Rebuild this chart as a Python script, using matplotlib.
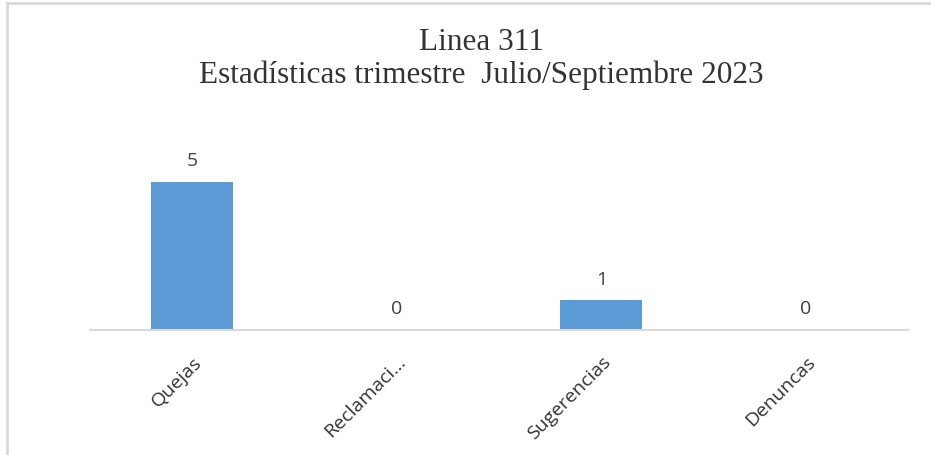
import matplotlib
matplotlib.use("Agg")
import matplotlib.pyplot as plt
from matplotlib.lines import Line2D

categories = ["Quejas", "Reclamaci...", "Sugerencias", "Denuncas"]
values = [5, 0, 1, 0]
title = "Linea 311\nEstadísticas trimestre  Julio/Septiembre 2023"

W, H = 931, 456
fig = plt.figure(figsize=(W/100, H/100), dpi=100)
ax = fig.add_axes([90/W, (H-331)/H, (908-90)/W, (331-153)/H])

x = list(range(len(categories)))
bars = ax.bar(x, values, width=0.4, color="#5B9BD5", zorder=2)
ax.set_xlim(-0.5, len(categories)-0.5)
ax.set_ylim(0, 6)

for xi, v in zip(x, values):
    ax.annotate(str(v), (xi, v), xytext=(0, 9), textcoords="offset points",
                ha="center", va="bottom", fontsize=14, family="Open Sans", color="#404040")

for s in ["top", "right", "left"]:
    ax.spines[s].set_visible(False)
ax.spines["bottom"].set_color("#D9D9D9")
ax.spines["bottom"].set_linewidth(1.5)
ax.set_yticks([])
ax.set_xticks(x)
ax.set_xticklabels(categories, rotation=45, ha="right", rotation_mode="anchor",
                   fontsize=14, family="Open Sans", color="#333333")
ax.tick_params(axis="x", length=0, pad=16)

fig.text(481/W, 1-59/H, title, ha="center", va="center", fontsize=22.5,
         family="Liberation Serif", color="#333333", linespacing=1.2)

# figure border (top and left visible)
fig.add_artist(Line2D([7/W, 7/W], [0, 1-4/H], transform=fig.transFigure, color="#D9D9D9", lw=2))
fig.add_artist(Line2D([7/W, 1], [1-4/H, 1-4/H], transform=fig.transFigure, color="#D9D9D9", lw=2))

fig.savefig("out.png", dpi=100)
